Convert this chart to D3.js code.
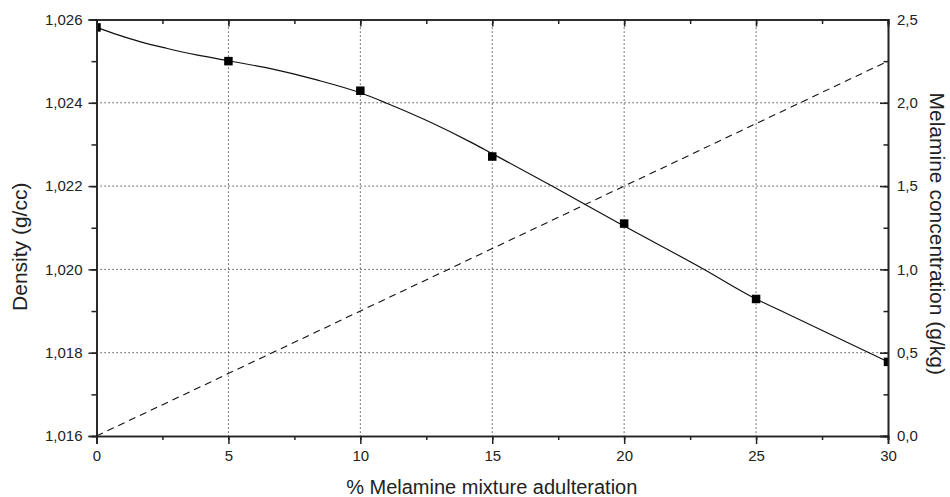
<!DOCTYPE html>
<html>
<head>
<meta charset="utf-8">
<script src="https://cdn.jsdelivr.net/npm/d3@7"></script>
<style>
  body { margin: 0; background: #fff; }
  svg { display: block; font-family: "Liberation Sans", Arial, sans-serif; }
</style>
</head>
<body>
<div class="vis-chart"></div>
<script>
// measured points (x = % adulteration, density in g/cc)
const adulteration = [0, 5, 10, 15, 20, 25, 30];
const density = [1.02581, 1.0250, 1.02429, 1.02271, 1.02110, 1.01929, 1.01778];

// smoothed density curve
const curveX = [0, 0.82, 1.64, 2.65, 3.79, 5.0, 6.6, 8.35, 10.0, 11.0, 12.6, 14.2, 15.0, 17.3, 19.6, 23.0, 25.0, 25.9, 30];
const curveY = [1.02581, 1.02563, 1.02547, 1.02531, 1.02515, 1.02501, 1.02482, 1.02455, 1.02424, 1.02399, 1.02355, 1.02305, 1.02278, 1.02199, 1.02118, 1.02001, 1.01929, 1.01902, 1.01778];

// melamine concentration (g/kg), dashed line
const concX = [0, 30];
const concY = [0, 2.25];

const xTicks = [0, 5, 10, 15, 20, 25, 30];
const yLeftTicks = [1.016, 1.018, 1.020, 1.022, 1.024, 1.026];
const yRightTicks = [0, 0.5, 1.0, 1.5, 2.0, 2.5];

const draw = () => {
  const W = 950, H = 497;
  const margin = { top: 19.5, right: 62, bottom: 61, left: 96.5 };
  const width = W - margin.left - margin.right;
  const height = H - margin.top - margin.bottom;

  const locale = d3.formatLocale({ decimal: ',', thousands: '.', grouping: [3], currency: ['', ''] });
  const fmt3 = locale.format('.3f');
  const fmt1 = locale.format('.1f');

  const svg = d3.select('.vis-chart')
    .append('svg')
    .attr('width', W)
    .attr('height', H);

  const g = svg.append('g')
    .attr('transform', `translate(${margin.left},${margin.top})`);

  const x = d3.scaleLinear().domain([0, 30]).range([0, width]);
  const yL = d3.scaleLinear().domain([1.016, 1.026]).range([height, 0]);
  const yR = d3.scaleLinear().domain([0, 2.5]).range([height, 0]);

  g.append('clipPath').attr('id', 'plot-clip')
    .append('rect').attr('width', width).attr('height', height);

  // dotted grid
  const grid = g.append('g').attr('stroke', '#222').attr('stroke-width', 1)
    .attr('stroke-dasharray', '1.2,2.8');
  grid.selectAll('line.v')
    .data(xTicks.slice(1, -1))
    .enter().append('line')
    .attr('x1', (d) => x(d)).attr('x2', (d) => x(d))
    .attr('y1', 0).attr('y2', height);
  grid.selectAll('line.h')
    .data(yLeftTicks.slice(1, -1))
    .enter().append('line')
    .attr('x1', 0).attr('x2', width)
    .attr('y1', (d) => yL(d)).attr('y2', (d) => yL(d));

  const plot = g.append('g').attr('clip-path', 'url(#plot-clip)');

  // dashed concentration line
  const concLine = d3.line()
    .x((d) => x(d[0]))
    .y((d) => yR(d[1]));
  plot.append('path')
    .datum(concX.map((v, i) => [v, concY[i]]))
    .attr('d', concLine)
    .attr('fill', 'none')
    .attr('stroke', '#111')
    .attr('stroke-width', 1.1)
    .attr('stroke-dasharray', '7,5');

  // density curve
  const densLine = d3.line()
    .x((d) => x(d[0]))
    .y((d) => yL(d[1]))
    .curve(d3.curveMonotoneX);
  plot.append('path')
    .datum(curveX.map((v, i) => [v, curveY[i]]))
    .attr('d', densLine)
    .attr('fill', 'none')
    .attr('stroke', '#111')
    .attr('stroke-width', 1.2);

  // square markers
  const s = 8.5;
  plot.selectAll('rect.pt')
    .data(adulteration.map((v, i) => [v, density[i]]))
    .enter().append('rect')
    .attr('x', (d) => x(d[0]) - s / 2)
    .attr('y', (d) => yL(d[1]) - s / 2)
    .attr('width', s)
    .attr('height', s)
    .attr('fill', '#000');

  const styleAxis = (sel) => {
    sel.select('.domain').attr('stroke', '#222').attr('stroke-width', 1.6);
    sel.selectAll('.tick line').attr('stroke', '#222').attr('stroke-width', 1.5);
    sel.selectAll('.tick text').attr('fill', '#222').style('font-size', '15px');
  };

  const minorX = d3.range(0, 30.01, 2.5);
  const minorL = d3.range(1.016, 1.02601, 0.001);
  const minorR = d3.range(0, 2.501, 0.25);

  // bottom axis (minor + major)
  g.append('g').attr('transform', `translate(0,${height})`)
    .call(d3.axisBottom(x).tickValues(minorX).tickSize(4).tickFormat(''))
    .call(styleAxis);
  g.append('g').attr('transform', `translate(0,${height})`)
    .call(d3.axisBottom(x).tickValues(xTicks).tickSize(8).tickPadding(6).tickFormat(d3.format('d')))
    .call(styleAxis);

  // top axis, inward ticks
  g.append('g')
    .call(d3.axisTop(x).tickValues(minorX).tickSize(-4.5).tickFormat(''))
    .call(styleAxis);
  g.append('g')
    .call(d3.axisTop(x).tickValues(xTicks).tickSize(-7).tickFormat(''))
    .call(styleAxis);

  // left axis
  g.append('g')
    .call(d3.axisLeft(yL).tickValues(minorL).tickSize(5).tickFormat(''))
    .call(styleAxis);
  g.append('g')
    .call(d3.axisLeft(yL).tickValues(yLeftTicks).tickSize(8).tickPadding(6).tickFormat(fmt3))
    .call(styleAxis);

  // right axis, inward ticks
  g.append('g').attr('transform', `translate(${width},0)`)
    .call(d3.axisRight(yR).tickValues(minorR).tickSize(-4.5).tickFormat(''))
    .call(styleAxis);
  g.append('g').attr('transform', `translate(${width},0)`)
    .call(d3.axisRight(yR).tickValues(yRightTicks).tickSize(-8).tickPadding(9).tickFormat(fmt1))
    .call(styleAxis);

  // axis titles
  svg.append('text')
    .attr('x', margin.left + width / 2 - 0.5)
    .attr('y', 494)
    .attr('text-anchor', 'middle')
    .attr('fill', '#222')
    .style('font-size', '20px')
    .text('% Melamine mixture adulteration');

  svg.append('text')
    .attr('transform', `translate(27,${margin.top + height / 2 + 19}) rotate(-90)`)
    .attr('text-anchor', 'middle')
    .attr('fill', '#222')
    .style('font-size', '21px')
    .text('Density (g/cc)');

  svg.append('text')
    .attr('transform', `translate(930,${margin.top + height / 2 + 6}) rotate(90)`)
    .attr('text-anchor', 'middle')
    .attr('fill', '#222')
    .style('font-size', '21px')
    .text('Melamine concentration (g/kg)');
};

draw();
</script>
</body>
</html>
